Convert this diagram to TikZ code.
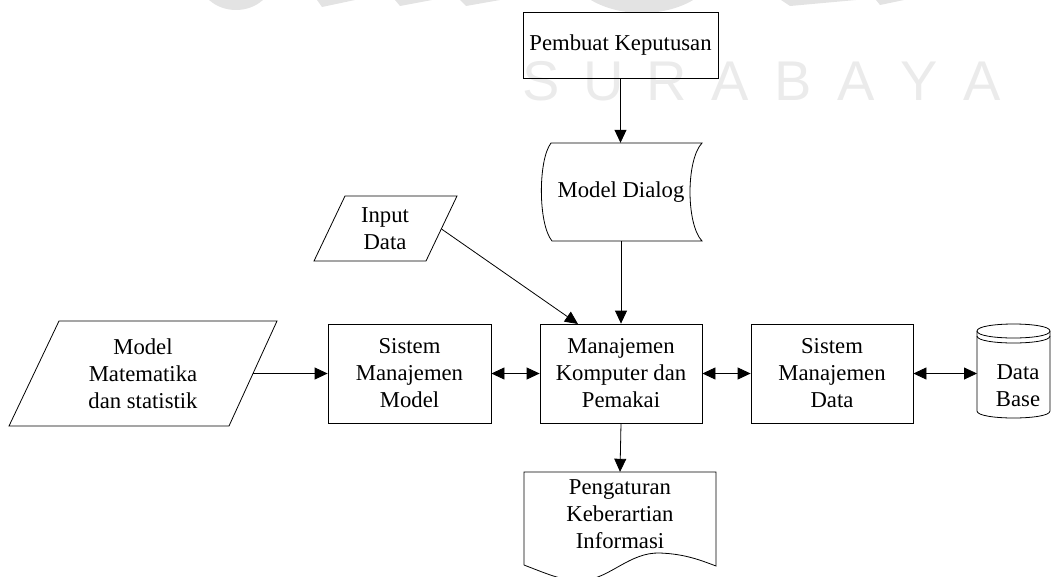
\documentclass[tikz,border=0pt]{standalone}
\usepackage{fontspec}
\setmainfont{Liberation Serif}
\newfontfamily\wmfont{Liberation Sans}
\usetikzlibrary{arrows.meta}
\begin{document}
\begin{tikzpicture}[x=1pt,y=-1pt,
  lbl/.style={font=\fontsize{22.7}{27}\selectfont, align=center, inner sep=0pt},
  boxnode/.style={lbl, draw, line width=0.8pt, minimum width=#1, minimum height=99},
  anchorbox/.style={lbl, minimum width=#1},
  shapeline/.style={line width=0.8pt},
  conn/.style={line width=0.8pt, -{Triangle[length=13pt,width=12pt]}},
  biconn/.style={line width=0.8pt, {Triangle[length=13pt,width=12pt]}-{Triangle[length=13pt,width=12pt]}},
  wm/.style={gray!22},
  wmletter/.style={font=\wmfont\fontsize{56}{56}\selectfont, text=gray!16, inner sep=0pt, anchor=base}]
\useasboundingbox (0,0) rectangle (1059,576);

% watermark
\fill[wm] (236,-22) ellipse [x radius=37, y radius=32];
\fill[wm] (317,0) -- (355,0) -- (322,7) -- cycle;
\fill[wm] (395,0) -- (432,0) -- (400,6) -- cycle;
\fill[wm] (460,0) -- (500,0) -- (466,6) -- cycle;
\fill[wm] (642,-40) ellipse [x radius=78, y radius=53];
\fill[wm] (781,0) -- (856,0) -- (790,6) -- cycle;
\fill[wm] (876,0) -- (904,0) -- (880,5) -- cycle;
\node[wmletter] (w1) at (541,100) {S};
\node[wmletter] (w2) at (604,100) {U};
\node[wmletter] (w3) at (667,100) {R};
\node[wmletter] (w4) at (730,100) {A};
\node[wmletter] (w5) at (793,100) {B};
\node[wmletter] (w6) at (856,100) {A};
\node[wmletter] (w7) at (919,100) {Y};
\node[wmletter] (w8) at (982,100) {A};

% nodes
\node[boxnode=195, minimum height=66] (pk) at (620.5,45) {Pembuat Keputusan};

\node[anchorbox=150, minimum height=98] (md) at (621,192) {Model Dialog};
\draw[shapeline] (551,143) -- (702,143) .. controls (686,160) and (686,224) .. (702,241)
  -- (552,241) .. controls (538,224) and (538,160) .. (551,143) -- cycle;

\node[lbl] (id) at (385,228.5) {Input\\Data};
\draw[shapeline] (345,196) -- (457,196) -- (426,261) -- (314,261) -- cycle;
\coordinate (idr) at (441.5,229);

\node[lbl] (mm) at (143,373.5) {Model\\Matematika\\dan statistik};
\draw[shapeline] (59,321) -- (277,321) -- (229,426) -- (9,426) -- cycle;
\coordinate (mmr) at (253,373.5);

\node[boxnode=163] (smm) at (409.5,373.5) {Sistem\\Manajemen\\Model};
\node[boxnode=162] (mkp) at (621,373.5) {Manajemen\\Komputer dan\\Pemakai};
\node[boxnode=162] (smd) at (832,373.5) {Sistem\\Manajemen\\Data};
\coordinate (mkpin) at (578,324);

% database cylinder
\node[lbl] (db) at (1018,386) {Data\\Base};
\coordinate (dbw) at (977,373.5);
\draw[shapeline] (977,331) .. controls (977,321.67) and (1050,321.67) .. (1050,331)
  .. controls (1050,340.33) and (977,340.33) .. (977,331) -- cycle;
\draw[shapeline] (977,336) .. controls (977,345.33) and (1050,345.33) .. (1050,336);
\draw[shapeline] (977,331) -- (977,411) .. controls (977,420.33) and (1050,420.33) .. (1050,411) -- (1050,331);

% document
\node[anchorbox=192, minimum height=84] (pi) at (620,514) {Pengaturan\\Keberartian\\Informasi};
\draw[shapeline] (524,565) -- (524,472) -- (716,472) -- (716,566)
  .. controls (700,560) and (685,554) .. (660,553)
  .. controls (630,552) and (610,578) .. (585,580)
  .. controls (565,582) and (550,575) .. (524,565);

% connectors
\draw[conn] (pk.south) -- (pk.south |- md.north);
\draw[conn] (md.south) -- (mkp.north);
\draw[conn] (idr) -- (mkpin);
\draw[conn] (mmr) -- (smm.west);
\draw[biconn] (smm.east) -- (mkp.west);
\draw[biconn] (mkp.east) -- (smd.west);
\draw[biconn] (smd.east) -- (dbw);
\draw[conn] (mkp.south) -- (pi.north);
\end{tikzpicture}
\end{document}
